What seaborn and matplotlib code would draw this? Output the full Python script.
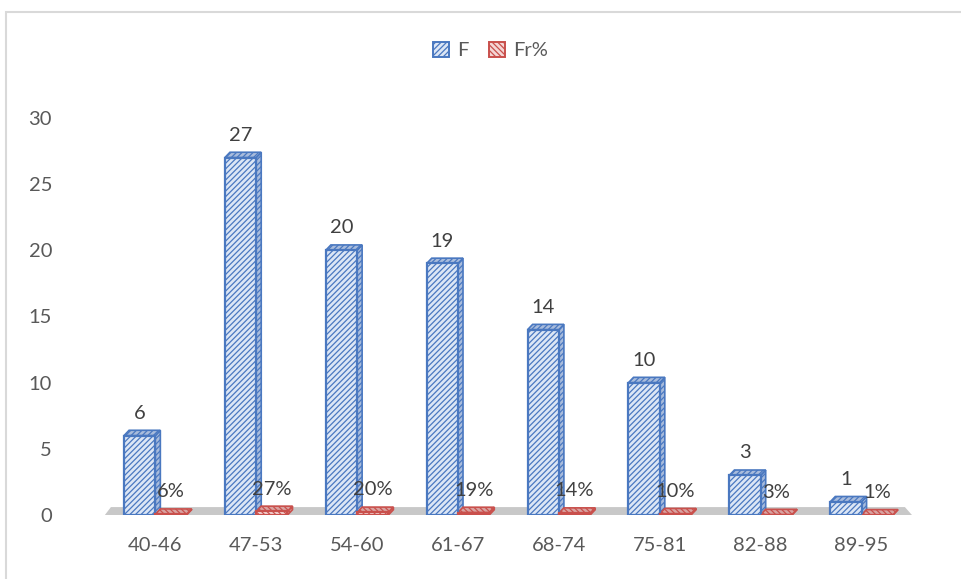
"""
Frequency (F) and relative frequency (Fr%) per class interval
"""
# Import the needed libraries
import pandas as pd
import matplotlib
matplotlib.use("Agg")
import matplotlib.pyplot as plt
from matplotlib.patches import Patch, Polygon, Rectangle
import seaborn as sns

# Chart data
classes = ["40-46", "47-53", "54-60", "61-67", "68-74", "75-81", "82-88", "89-95"]
freq = [6, 27, 20, 19, 14, 10, 3, 1]
rel_freq = [0.06, 0.27, 0.20, 0.19, 0.14, 0.10, 0.03, 0.01]
series = ["F", "Fr%"]
y_ticks = [0, 5, 10, 15, 20, 25, 30]

# Colours: (fill, edge/hatch, side face, hatch)
styles = {
    "F": ("#DCE6F5", "#4A78C0", "#A9BCDC", "//////"),
    "Fr%": ("#F4D6D5", "#C9504C", "#D9A3A1", "\\\\\\\\\\\\"),
}

df = pd.DataFrame({
    "classe": classes * 2,
    "serie": ["F"] * len(classes) + ["Fr%"] * len(classes),
    "valore": freq + rel_freq,
})

sns.set_style("white")
plt.rcParams["font.family"] = ["Lato", "DejaVu Sans"]
plt.rcParams["hatch.linewidth"] = 0.9

fig = plt.figure(figsize=(9.62, 5.79), dpi=100)
ax = fig.add_axes([0.109, 0.1105, 0.839, 0.686])

sns.barplot(data=df, x="classe", y="valore", hue="serie", order=classes,
            hue_order=series, width=0.62, gap=0, legend=False, ax=ax)

ax.set_xlim(-0.5, len(classes) - 0.5)
ax.set_ylim(0, 30)

# Floor of the 3D chart
n = len(classes)
floor = Polygon([(-0.5, 0), (n - 0.5, 0), (n - 0.57, 0.6), (-0.44, 0.6)],
                closed=True, facecolor="#C8C8C8", edgecolor="none", zorder=0.5)
ax.add_patch(floor)

# Style the bars and add a little depth
dx, dy = 0.05, 0.4
for cont, name in zip(ax.containers, series):
    fill, edge, side, hatch = styles[name]
    for p in cont.patches:
        p.set_facecolor(fill)
        p.set_edgecolor(edge)
        p.set_hatch(hatch)
        p.set_linewidth(1.6)
        p.set_zorder(3)
        x, w, h = p.get_x(), p.get_width(), p.get_height()
        side_face = Polygon([(x + w, 0), (x + w + dx, dy), (x + w + dx, h + dy), (x + w, h)],
                            closed=True, facecolor=side, edgecolor=edge,
                            hatch=hatch, linewidth=1.2, zorder=2.9)
        top_face = Polygon([(x, h), (x + dx, h + dy), (x + w + dx, h + dy), (x + w, h)],
                           closed=True, facecolor=side, edgecolor=edge,
                           hatch=hatch, linewidth=1.2, zorder=2.9)
        ax.add_patch(side_face)
        ax.add_patch(top_face)

# Data labels
ax.bar_label(ax.containers[0], labels=[str(v) for v in freq], padding=10,
             fontsize=14.5, color="#404040")
ax.bar_label(ax.containers[1], labels=[f"{v:.0%}" for v in rel_freq], padding=10,
             fontsize=14.5, color="#404040")

# Axes styling
ax.set_yticks(y_ticks)
ax.set_xlabel("")
ax.set_ylabel("")
ax.tick_params(axis="x", length=0, pad=16, labelsize=14.5, labelcolor="#595959")
ax.tick_params(axis="y", length=0, pad=38, labelsize=14.5, labelcolor="#595959")
sns.despine(ax=ax, left=True, bottom=True)

# Legend
handles = [Patch(facecolor=styles[s][0], edgecolor=styles[s][1], hatch=styles[s][3],
                 linewidth=1.4, label=s) for s in series]
fig.legend(handles=handles, loc="center", bbox_to_anchor=(0.51, 0.913), ncol=2,
           frameon=False, fontsize=14.5, labelcolor="#595959", handlelength=0.8,
           handleheight=0.8, handletextpad=0.4, columnspacing=1.0)

# Chart area border
fig.patches.append(Rectangle((0.006, -0.1), 1.1, 1.079, transform=fig.transFigure,
                             fill=False, edgecolor="#D9D9D9", linewidth=1.5))

fig.savefig("out.png", dpi=100)
